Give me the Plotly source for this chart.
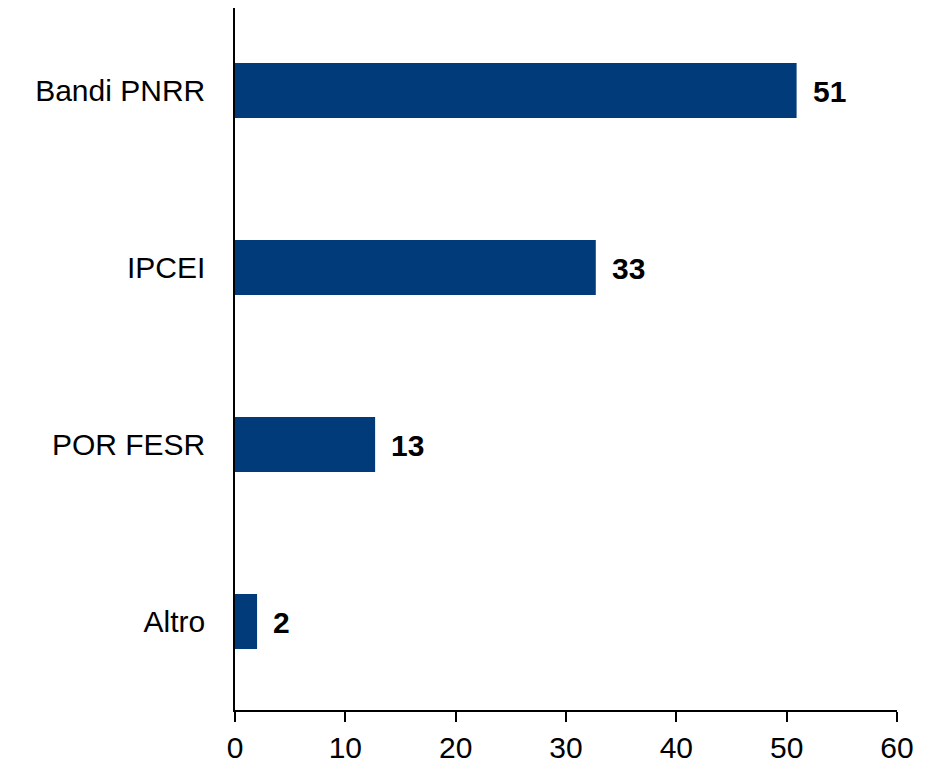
import plotly.graph_objects as go

categories = ["Bandi PNRR", "IPCEI", "POR FESR", "Altro"]
values = [50.9, 32.7, 12.7, 2.0]
labels = ["51", "33", "13", "2"]
x_ticks = [0, 10, 20, 30, 40, 50, 60]

fig = go.Figure(go.Bar(
    y=categories, x=values, orientation="h",
    marker=dict(color="#023B79", line=dict(width=0)),
    width=0.31,
    cliponaxis=False,
))

for c, v, t in zip(categories, values, labels):
    fig.add_annotation(x=v, y=c, text="<b>" + t + "</b>", showarrow=False,
                       xanchor="left", yanchor="middle", xshift=14, yshift=-1,
                       font=dict(family="Liberation Sans, Arial", size=30, color="#000000"))

fig.update_layout(
    width=945, height=765,
    margin=dict(l=227, r=56, t=0, b=63),
    plot_bgcolor="white", paper_bgcolor="white",
    showlegend=False,
    font=dict(family="Liberation Sans, Arial", size=30, color="#000000"),
    xaxis=dict(range=[0, 60], tickvals=x_ticks, showgrid=False, zeroline=False,
               showline=True, linecolor="#000000", linewidth=1.5,
               ticks="outside", ticklen=10, tickcolor="#000000", tickwidth=1.5,
               tickfont=dict(size=30)),
    yaxis=dict(categoryorder="array", categoryarray=categories[::-1],
               range=[-0.5, 3.466],
               showgrid=False, zeroline=False, showline=True,
               linecolor="#000000", linewidth=1.5, ticks="outside", ticklen=22,
               tickcolor="rgba(0,0,0,0)",
               tickfont=dict(size=30)),
)
fig.write_html("out.html")
